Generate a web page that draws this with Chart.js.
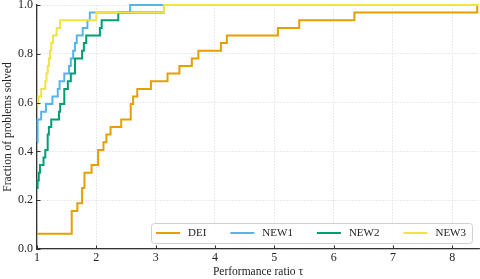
<!DOCTYPE html>
<html>
<head>
<meta charset="utf-8">
<script src="https://cdn.jsdelivr.net/npm/chart.js@4"></script>
<style>
    body { margin: 0; background: #fff; }
</style>
</head>
<body>
<canvas id="chart" width="480" height="279"></canvas>
<script>
const SERIES_NAMES = ['DEI', 'NEW1', 'NEW2', 'NEW3'];
const SERIES_COLORS = ['#E69F00', '#56B4E9', '#009E73', '#F0E442'];

// performance ratio where each step starts, and the fraction solved from there on
const deiTau = [1, 1.585, 1.68, 1.76, 1.80, 1.92, 2.03, 2.12, 2.17, 2.24, 2.42, 2.58, 2.62, 2.69, 2.92, 3.20, 3.40, 3.61, 3.72, 4.10, 4.20, 5.06, 5.42, 6.35, 8.42, 8.45];
const deiFrac = [0.063, 0.156, 0.188, 0.25, 0.313, 0.344, 0.406, 0.438, 0.469, 0.5, 0.531, 0.594, 0.625, 0.656, 0.688, 0.719, 0.75, 0.781, 0.813, 0.844, 0.875, 0.906, 0.938, 0.969, 1, 1];

const new1Tau = [1, 1.01, 1.07, 1.15, 1.26, 1.35, 1.38, 1.46, 1.54, 1.57, 1.61, 1.64, 1.67, 1.77, 1.85, 1.89, 2.57, 8.45];
const new1Frac = [0.438, 0.531, 0.563, 0.594, 0.625, 0.656, 0.688, 0.719, 0.75, 0.781, 0.813, 0.844, 0.875, 0.906, 0.938, 0.969, 1, 1];

const new2Tau = [1, 1.01, 1.03, 1.05, 1.11, 1.14, 1.18, 1.2, 1.24, 1.37, 1.39, 1.46, 1.52, 1.57, 1.64, 1.76, 1.79, 1.83, 2.06, 2.09, 2.37, 3.14, 8.45];
const new2Frac = [0.25, 0.281, 0.313, 0.344, 0.375, 0.406, 0.469, 0.5, 0.531, 0.563, 0.594, 0.656, 0.688, 0.719, 0.781, 0.813, 0.844, 0.875, 0.906, 0.938, 0.969, 1, 1];

const new3Tau = [1, 1.02, 1.07, 1.14, 1.16, 1.18, 1.20, 1.22, 1.24, 1.27, 1.33, 1.39, 2.0, 3.14, 8.45];
const new3Frac = [0.594, 0.625, 0.656, 0.688, 0.719, 0.75, 0.781, 0.813, 0.844, 0.875, 0.906, 0.938, 0.969, 1, 1];

const xTicks = [1, 2, 3, 4, 5, 6, 7, 8];
const yTicks = [0, 0.2, 0.4, 0.6, 0.8, 1.0];
const X_MIN = 1, X_MAX = 8.45;

const FONT = "'Liberation Serif', 'Times New Roman', serif";
const AXIS_COLOR = '#333';

// short tick marks pointing into the plot
const innerTicks = {
    id: 'innerTicks',
    afterDraw(chart) {
        const { ctx, chartArea, scales } = chart;
        ctx.save();
        ctx.strokeStyle = AXIS_COLOR;
        ctx.lineWidth = 1;
        ctx.beginPath();
        xTicks.forEach(v => {
            const x = Math.round(scales.x.getPixelForValue(v)) + 0.5;
            ctx.moveTo(x, chartArea.bottom);
            ctx.lineTo(x, chartArea.bottom - 3.5);
        });
        yTicks.forEach(v => {
            const y = Math.round(scales.y.getPixelForValue(v)) + 0.5;
            ctx.moveTo(chartArea.left, y);
            ctx.lineTo(chartArea.left + 3.5, y);
        });
        ctx.stroke();
        ctx.restore();
    }
};

// one-row legend in the lower right corner of the plot
const boxLegend = {
    id: 'boxLegend',
    afterDraw(chart) {
        const { ctx, chartArea } = chart;
        const sampleLen = 24, textGap = 8, colGap = 24, padX = 5, padRight = 6, boxH = 20;

        ctx.save();
        ctx.font = `11px ${FONT}`;
        const widths = SERIES_NAMES.map(n => ctx.measureText(n).width);
        let total = padX + padRight;
        widths.forEach((w, i) => {
            total += sampleLen + textGap + w;
            if (i < widths.length - 1) total += colGap;
        });

        const right = chartArea.right - 7;
        const bottom = chartArea.bottom - 6;
        const left = right - total;
        const top = bottom - boxH;

        ctx.beginPath();
        ctx.roundRect(left + 0.5, top + 0.5, total, boxH, 3);
        ctx.fillStyle = 'rgba(255,255,255,0.85)';
        ctx.fill();
        ctx.strokeStyle = '#d0d0d0';
        ctx.lineWidth = 1;
        ctx.stroke();

        const cy = top + boxH / 2;
        let x = left + padX;
        SERIES_NAMES.forEach((name, i) => {
            ctx.strokeStyle = SERIES_COLORS[i];
            ctx.lineWidth = 2;
            ctx.beginPath();
            ctx.moveTo(x, cy);
            ctx.lineTo(x + sampleLen, cy);
            ctx.stroke();

            ctx.fillStyle = '#222';
            ctx.textBaseline = 'middle';
            ctx.fillText(name, x + sampleLen + textGap, cy + 0.5);
            x += sampleLen + textGap + widths[i] + colGap;
        });
        ctx.restore();
    }
};

function toPoints(tau, frac) {
    return tau.map((t, i) => ({ x: t, y: frac[i] }));
}

function drawChart(selector) {
    const ctx = document.querySelector(selector);
    const allData = [
        toPoints(deiTau, deiFrac),
        toPoints(new1Tau, new1Frac),
        toPoints(new2Tau, new2Frac),
        toPoints(new3Tau, new3Frac)
    ];

    // later series sit on top, so NEW3 gets the lowest order
    const datasets = SERIES_NAMES.map((name, i) => ({
        label: name,
        data: allData[i],
        order: SERIES_NAMES.length - 1 - i,
        borderColor: SERIES_COLORS[i],
        backgroundColor: SERIES_COLORS[i],
        borderWidth: 2,
        stepped: 'before',
        pointRadius: 0,
        fill: false,
        clip: false
    }));

    new Chart(ctx, {
        type: 'line',
        data: { datasets: datasets },
        options: {
            responsive: false,
            animation: false,
            devicePixelRatio: 1,
            layout: { padding: { top: 5, right: 1, left: 0, bottom: 0 } },
            plugins: {
                legend: { display: false },
                tooltip: { enabled: false }
            },
            scales: {
                x: {
                    type: 'linear',
                    min: X_MIN,
                    max: X_MAX,
                    afterBuildTicks: scale => { scale.ticks = xTicks.map(v => ({ value: v })); },
                    afterFit: scale => {
                        scale.height = 30;
                        scale.paddingLeft = 0;
                        scale.paddingRight = 0;
                    },
                    ticks: {
                        color: '#222',
                        font: { family: FONT, size: 12 },
                        padding: 2,
                        maxRotation: 0
                    },
                    grid: { color: '#dcdcdc', lineWidth: 0.8, drawTicks: false },
                    border: { color: AXIS_COLOR, width: 1.3, dash: [1.5, 1.5] },
                    title: {
                        display: true,
                        text: 'Performance ratio τ',
                        color: '#222',
                        font: { family: FONT, size: 11.5 },
                        padding: { top: 0, bottom: 0 }
                    }
                },
                y: {
                    type: 'linear',
                    min: 0,
                    max: 1,
                    afterBuildTicks: scale => { scale.ticks = yTicks.map(v => ({ value: v })); },
                    afterFit: scale => {
                        scale.width = 37;
                        scale.paddingTop = 0;
                        scale.paddingBottom = 0;
                    },
                    ticks: {
                        color: '#222',
                        font: { family: FONT, size: 12 },
                        padding: 4,
                        callback: v => v.toFixed(1)
                    },
                    grid: { color: '#dcdcdc', lineWidth: 0.8, drawTicks: false },
                    border: { color: AXIS_COLOR, width: 1.3, dash: [1.5, 1.5] },
                    title: {
                        display: true,
                        text: 'Fraction of problems solved',
                        color: '#222',
                        font: { family: FONT, size: 11.5 },
                        padding: { top: 1, bottom: 0 }
                    }
                }
            }
        },
        plugins: [innerTicks, boxLegend]
    });
}

drawChart('#chart');
</script>
</body>
</html>
